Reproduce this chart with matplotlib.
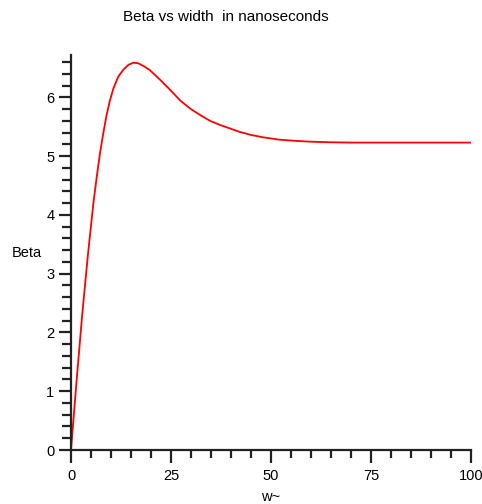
import matplotlib
matplotlib.use("Agg")
import matplotlib.pyplot as plt
from matplotlib.ticker import MultipleLocator

plt.rcParams['font.family'] = ['Liberation Sans', 'DejaVu Sans']

# width (ns) and beta values along the curve
width = [0, 1.4, 2.8, 4.2, 5.6, 6.4, 7.25, 8.1, 8.9, 9.75, 10.6, 11.8, 13.1,
         14.3, 15.6, 16.8, 18.2, 19.75, 22.25, 24.75, 27.25, 29.75, 32.25,
         34.75, 37.25, 39.75, 42.25, 45, 48, 52, 56, 60, 65, 70, 80, 90, 100]
beta = [0, 1.18, 2.30, 3.30, 4.20, 4.63, 5.05, 5.40, 5.70, 5.95, 6.15, 6.35,
        6.47, 6.55, 6.59, 6.58, 6.53, 6.46, 6.30, 6.13, 5.95, 5.81, 5.70,
        5.60, 5.53, 5.47, 5.41, 5.36, 5.32, 5.28, 5.26, 5.245, 5.235, 5.23,
        5.23, 5.23, 5.23]

x_major = [0, 25, 50, 75, 100]
y_major = [0, 1, 2, 3, 4, 5, 6]

fig = plt.figure(figsize=(4.82, 5.04), dpi=100)
ax = fig.add_axes([71 / 482, 54 / 504, 400 / 482, 395 / 504])

ax.plot(width, beta, color='red', linewidth=1.3, solid_joinstyle='round')

ax.set_xlim(0, 100)
ax.set_ylim(0, 6.72)
ax.set_xticks(x_major)
ax.set_yticks(y_major)
ax.xaxis.set_minor_locator(MultipleLocator(5))
ax.yaxis.set_minor_locator(MultipleLocator(0.2))

for side in ('top', 'right'):
    ax.spines[side].set_visible(False)
for side in ('left', 'bottom'):
    ax.spines[side].set_linewidth(1.6)
    ax.spines[side].set_color('#222222')

ax.tick_params(axis='x', which='major', direction='out', length=9,
               width=1.6, color='#222222', pad=5, labelsize=10.5)
ax.tick_params(axis='x', which='minor', direction='out', length=6,
               width=1.6, color='#222222')
ax.tick_params(axis='y', which='major', direction='out', length=9,
               width=1.6, color='#222222', pad=3, labelsize=10.5)
ax.tick_params(axis='y', which='minor', direction='out', length=6.3,
               width=1.6, color='#222222')

fig.text(271 / 482, 1 - 497 / 504, 'w~', ha='center', va='center', fontsize=10.5)
fig.text(27 / 482, 1 - 253 / 504, 'Beta', ha='center', va='center', fontsize=10.5)
fig.text(226 / 482, 1 - 17 / 504, 'Beta vs width  in nanoseconds',
         ha='center', va='center', fontsize=11)

fig.savefig('out.png', dpi=100)
